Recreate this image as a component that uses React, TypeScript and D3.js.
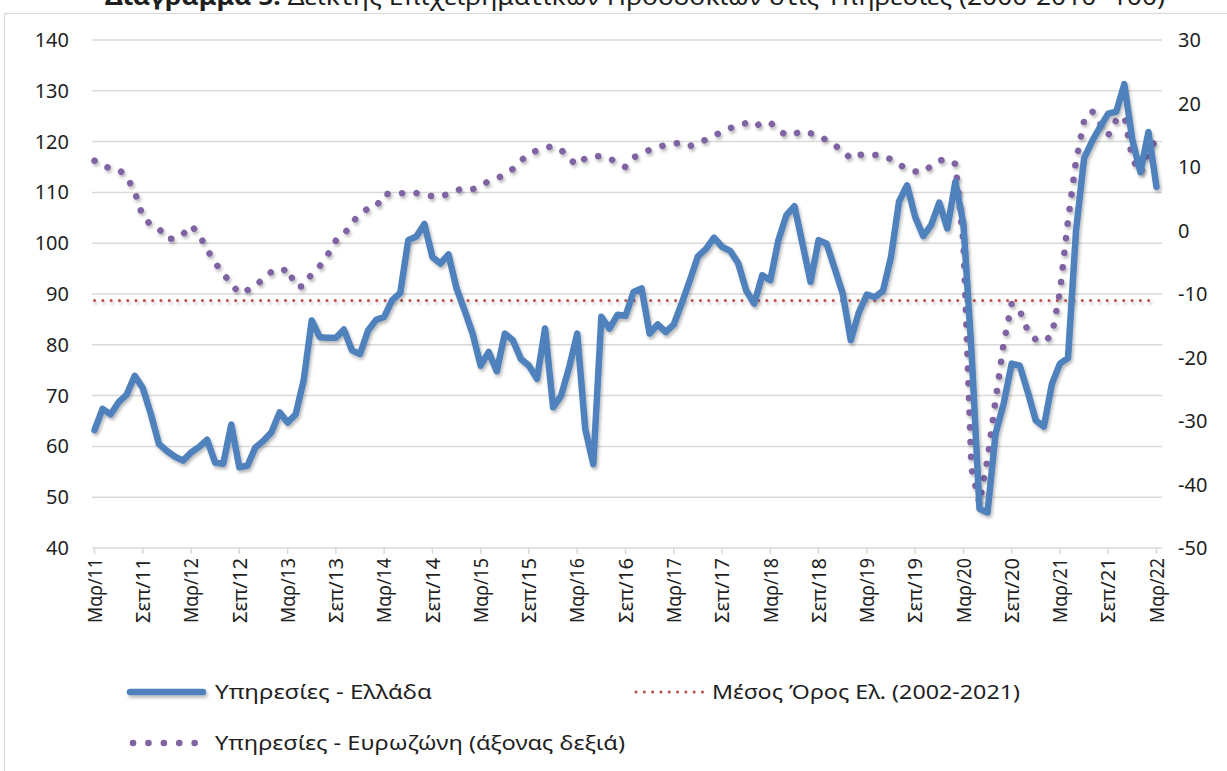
import React from "react";
import * as d3 from "d3";

// Greek services confidence index (left axis), monthly Mar/11 .. Mar/22
const greece = [
  63.2, 67.4, 66.3, 68.7, 70.2, 73.9, 71.5, 66.4, 60.5, 59.1, 58.0, 57.2,
  58.8, 59.9, 61.3, 56.8, 56.6, 64.3, 55.9, 56.2, 59.8, 61.1, 62.8, 66.7,
  64.7, 66.3, 73.0, 84.8, 81.5, 81.4, 81.4, 83.0, 78.9, 78.2, 82.8, 84.9,
  85.5, 88.8, 90.2, 100.6, 101.3, 103.8, 97.3, 96.0, 97.8, 91.1, 86.8, 82.2,
  75.9, 78.6, 74.8, 82.2, 80.9, 77.2, 75.9, 73.3, 83.2, 67.7, 70.0, 75.6,
  82.2, 63.4, 56.5, 85.5, 83.2, 85.9, 85.7, 90.4, 91.1, 82.2, 84.0, 82.5,
  84.0, 88.2, 92.7, 97.4, 98.9, 101.1, 99.3, 98.5, 96.1, 90.7, 88.1, 93.7,
  92.7, 100.6, 105.5, 107.3, 99.9, 92.4, 100.6, 99.9, 95.0, 90.1, 80.9, 86.4,
  89.9, 89.4, 90.6, 97.3, 108.2, 111.4, 105.2, 101.4, 103.6, 108.0, 102.9, 112.1,
  103.8, 79.0, 47.7, 47.0, 62.5, 68.4, 76.3, 75.9, 70.7, 65.1, 63.9, 72.3,
  76.3, 77.4, 102.5, 116.7, 120.1, 122.9, 125.5, 125.9, 131.3, 120.3, 114.0, 121.9,
  111.1,
];

// Eurozone services confidence (right axis), same months
const eurozone = [
  11.0, 10.2, 9.8, 9.6, 8.5, 6.1, 2.2, 0.9, 0.3, -1.3, -1.3, -0.6,
  0.8, -0.6, -3.0, -5.1, -6.8, -8.4, -9.9, -9.4, -8.8, -7.5, -6.5, -6.7,
  -5.9, -8.8, -8.8, -6.8, -5.6, -3.8, -1.6, -0.7, 1.3, 2.5, 3.5, 3.7,
  5.8, 5.7, 5.8, 6.1, 5.9, 5.6, 5.4, 5.3, 5.8, 6.3, 6.7, 6.5,
  7.0, 7.8, 8.2, 8.8, 9.7, 11.0, 12.0, 12.6, 13.0, 13.3, 12.7, 11.3,
  10.3, 11.4, 11.7, 11.7, 11.4, 10.6, 10.0, 11.5, 12.1, 12.7, 13.1, 13.5,
  13.7, 13.8, 13.3, 13.8, 14.3, 14.9, 15.6, 16.1, 16.6, 16.9, 16.3, 17.0,
  17.0, 15.8, 15.0, 15.2, 15.7, 15.3, 15.0, 14.2, 13.4, 12.6, 11.3, 11.9,
  12.0, 11.9, 11.8, 11.2, 10.4, 9.7, 9.3, 9.2, 10.2, 11.0, 11.2, 10.5,
  -1.8, -37.5, -43.0, -36.0, -26.7, -17.8, -11.5, -12.6, -15.8, -17.2, -17.5, -16.5,
  -9.6, 1.6, 11.0, 17.3, 18.8, 16.8, 15.0, 17.4, 18.0, 11.3, 9.0, 12.6,
  14.3,
];

const greekMean = 88.7; // Μέσος Όρος Ελ. (2002-2021)

const tickLabels = [
  "Μαρ/11", "Σεπ/11", "Μαρ/12", "Σεπ/12", "Μαρ/13", "Σεπ/13", "Μαρ/14", "Σεπ/14",
  "Μαρ/15", "Σεπ/15", "Μαρ/16", "Σεπ/16", "Μαρ/17", "Σεπ/17", "Μαρ/18", "Σεπ/18",
  "Μαρ/19", "Σεπ/19", "Μαρ/20", "Σεπ/20", "Μαρ/21", "Σεπ/21", "Μαρ/22",
];
const tickStep = 6; // months between labels

const leftTicks = [40, 50, 60, 70, 80, 90, 100, 110, 120, 130, 140];
const rightTicks = [-50, -40, -30, -20, -10, 0, 10, 20, 30];

const title = "Διάγραμμα 5:";
const subtitle = " Δείκτης Επιχειρηματικών Προσδοκιών στις Υπηρεσίες (2000-2010=100)";

const W = 1227;
const H = 771;
const font = "'Noto Sans', 'DejaVu Sans', sans-serif";
const blue = "#4F81BD";
const purple = "#8064A2";
const red = "#C0504D";
const grid = "#d9d9d9";
const txt = "#1f1f1f";

export default function App() {
  const plotTop = 40;
  const plotBottom = 548;
  const gridLeft = 92;
  const gridRight = 1162;

  const x = d3.scaleLinear().domain([0, greece.length - 1]).range([94.5, 1156.5]);
  const yL = d3.scaleLinear().domain([40, 140]).range([plotBottom, plotTop]);
  const yR = d3.scaleLinear().domain([-50, 30]).range([plotBottom, plotTop]);

  const greekLine = d3
    .line<number>()
    .x((_, i) => x(i))
    .y((d) => yL(d));
  const euroLine = d3
    .line<number>()
    .x((_, i) => x(i))
    .y((d) => yR(d));

  return (
    <svg
      width={W}
      height={H}
      style={{ position: "absolute", left: 0, top: 0, background: "#fff" }}
      fontFamily={font}
    >
      <defs>
        <filter id="shadow" filterUnits="userSpaceOnUse" x="0" y="0" width={W} height={H}>
          <feDropShadow dx="1.5" dy="2.5" stdDeviation="1.6" floodColor="#000" floodOpacity="0.28" />
        </filter>
      </defs>

      <rect x={0} y={0} width={W} height={H} fill="#fff" />

      {/* title, cut off by the top of the picture as in the source */}
      <text x={105} y={5} fontSize={23} fill={txt} textLength={1060} lengthAdjust="spacingAndGlyphs">
        <tspan fontWeight="bold">{title}</tspan>
        <tspan>{subtitle}</tspan>
      </text>

      {/* chart frame */}
      <rect x={4.5} y={13.5} width={W + 20} height={H + 20} fill="none" stroke={grid} strokeWidth={1.2} />

      {/* gridlines */}
      {leftTicks.map((t) => (
        <line key={t} x1={gridLeft} x2={gridRight} y1={yL(t)} y2={yL(t)} stroke={grid} strokeWidth={1.5} />
      ))}

      {/* x ticks */}
      {tickLabels.map((lab, k) => {
        const px = x(k * tickStep);
        return (
          <g key={lab}>
            <line x1={px} x2={px} y1={plotBottom} y2={plotBottom + 6} stroke={grid} strokeWidth={1.5} />
            <text
              transform={`translate(${px},${plotBottom + 10}) rotate(-90)`}
              textAnchor="end"
              dy="0.35em"
              fontSize={20.5}
              fill={txt}
              textLength={65}
              lengthAdjust="spacingAndGlyphs"
            >
              {lab}
            </text>
          </g>
        );
      })}

      {/* left axis labels */}
      {leftTicks.map((t) => (
        <text key={t} x={69} y={yL(t)} dy="0.35em" textAnchor="end" fontSize={20} fill={txt}>
          {t}
        </text>
      ))}

      {/* right axis labels */}
      {rightTicks.map((t) => (
        <text key={t} x={1178} y={yR(t)} dy="0.35em" textAnchor="start" fontSize={20} fill={txt}>
          {t}
        </text>
      ))}

      {/* mean line */}
      <line
        x1={x(0)}
        x2={x(greece.length - 1)}
        y1={yL(greekMean)}
        y2={yL(greekMean)}
        stroke={red}
        strokeWidth={3}
        strokeDasharray="0.1 8.2"
        strokeLinecap="round"
        filter="url(#shadow)"
      />

      {/* eurozone dotted */}
      <path
        d={euroLine(eurozone) || ""}
        fill="none"
        stroke={purple}
        strokeWidth={6.5}
        strokeDasharray="0.1 14.6"
        strokeLinecap="round"
        strokeLinejoin="round"
        filter="url(#shadow)"
      />

      {/* greece solid */}
      <path
        d={greekLine(greece) || ""}
        fill="none"
        stroke={blue}
        strokeWidth={6.5}
        strokeLinejoin="round"
        strokeLinecap="round"
        filter="url(#shadow)"
      />

      {/* legend */}
      <g fontSize={20.5} fill={txt}>
        <line x1={130} x2={203} y1={692} y2={692} stroke={blue} strokeWidth={6.5} strokeLinecap="round" filter="url(#shadow)" />
        <text x={215} y={692} dy="0.35em" textLength={217} lengthAdjust="spacingAndGlyphs">
          Υπηρεσίες  - Ελλάδα
        </text>

        <line
          x1={636}
          x2={705}
          y1={692}
          y2={692}
          stroke={red}
          strokeWidth={3}
          strokeDasharray="0.1 8.2"
          strokeLinecap="round"
        />
        <text x={712} y={692} dy="0.35em" textLength={308} lengthAdjust="spacingAndGlyphs">
          Μέσος Όρος Ελ. (2002-2021)
        </text>

        <line
          x1={133}
          x2={197}
          y1={743}
          y2={743}
          stroke={purple}
          strokeWidth={6.5}
          strokeDasharray="0.1 15.3"
          strokeLinecap="round"
        />
        <text x={215} y={743} dy="0.35em" textLength={410} lengthAdjust="spacingAndGlyphs">
          Υπηρεσίες - Ευρωζώνη (άξονας δεξιά)
        </text>
      </g>
    </svg>
  );
}
